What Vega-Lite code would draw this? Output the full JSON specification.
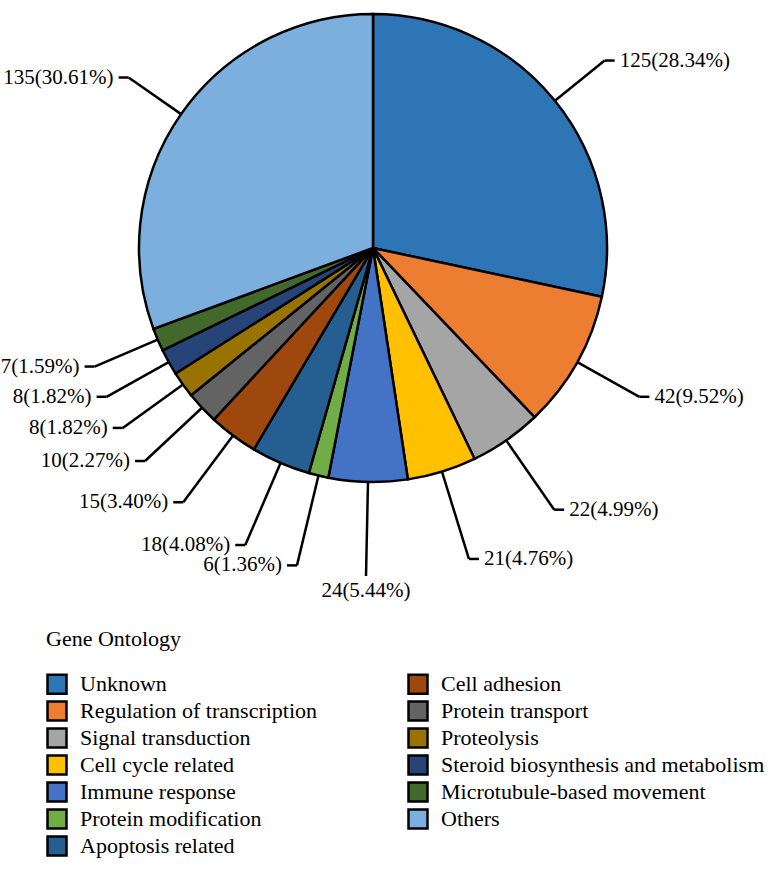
{
  "$schema": "https://vega.github.io/schema/vega-lite/v6.json",
  "width": 742,
  "height": 496,
  "padding": 0,
  "autosize": {"type": "pad"},
  "background": "white",
  "config": {"view": {"stroke": null}, "font": "Liberation Serif"},
  "data": {
    "values": [
      {"idx": 1, "category": "Unknown", "count": 125, "label": "125(28.34%)"},
      {"idx": 2, "category": "Regulation of transcription", "count": 42, "label": "42(9.52%)"},
      {"idx": 3, "category": "Signal transduction", "count": 22, "label": "22(4.99%)"},
      {"idx": 4, "category": "Cell cycle related", "count": 21, "label": "21(4.76%)"},
      {"idx": 5, "category": "Immune response", "count": 24, "label": "24(5.44%)"},
      {"idx": 6, "category": "Protein modification", "count": 6, "label": "6(1.36%)"},
      {"idx": 7, "category": "Apoptosis related", "count": 18, "label": "18(4.08%)"},
      {"idx": 8, "category": "Cell adhesion", "count": 15, "label": "15(3.40%)"},
      {"idx": 9, "category": "Protein transport", "count": 10, "label": "10(2.27%)"},
      {"idx": 10, "category": "Proteolysis", "count": 8, "label": "8(1.82%)"},
      {"idx": 11, "category": "Steroid biosynthesis and metabolism", "count": 8, "label": "8(1.82%)"},
      {"idx": 12, "category": "Microtubule-based movement", "count": 7, "label": "7(1.59%)"},
      {"idx": 13, "category": "Others", "count": 135, "label": "135(30.61%)"}
    ]
  },
  "transform": [
    {"window": [{"op": "sum", "field": "count", "as": "cum"}], "sort": [{"field": "idx"}], "frame": [null, 0]},
    {"joinaggregate": [{"op": "sum", "field": "count", "as": "total"}]},
    {"calculate": "2*PI*(datum.cum - datum.count/2)/datum.total", "as": "mid"},
    {"calculate": "sin(datum.mid)", "as": "s"},
    {"calculate": "cos(datum.mid)", "as": "c"},
    {"calculate": "298 + (datum.c < 0 ? 30*datum.c*datum.c : 0)", "as": "re"},
    {"calculate": "234*datum.s", "as": "ex"},
    {"calculate": "234*datum.c", "as": "ey"},
    {"calculate": "datum.re*datum.s", "as": "lx"},
    {"calculate": "datum.re*datum.c", "as": "ly"},
    {"calculate": "abs(datum.s) < 0.1 ? 0 : (datum.s > 0 ? 1 : -1)", "as": "side"},
    {"calculate": "datum.lx + datum.side*10", "as": "tx"},
    {"calculate": "datum.tx + datum.side*5", "as": "labx"},
    {"calculate": "datum.ly - 4", "as": "laby"}
  ],
  "layer": [
    {
      "mark": {"type": "arc", "outerRadius": 234, "stroke": "black", "strokeWidth": 2.5},
      "encoding": {
        "theta": {"field": "count", "type": "quantitative", "stack": true},
        "order": {"field": "idx", "type": "quantitative"},
        "color": {
          "field": "category",
          "type": "nominal",
          "scale": {
            "domain": ["Unknown", "Regulation of transcription", "Signal transduction", "Cell cycle related", "Immune response", "Protein modification", "Apoptosis related", "Cell adhesion", "Protein transport", "Proteolysis", "Steroid biosynthesis and metabolism", "Microtubule-based movement", "Others"],
            "range": ["#2E75B6", "#ED7D31", "#A5A5A5", "#FFC000", "#4472C4", "#70AD47", "#255E91", "#9E480E", "#636363", "#997300", "#264478", "#43682B", "#7CAFDD"]
          },
          "legend": {
            "orient": "none",
            "legendX": 44,
            "legendY": 629,
            "direction": "vertical",
            "columns": 2,
            "title": "Gene Ontology",
            "titleFont": "Liberation Serif",
            "titleFontSize": 22,
            "titleFontWeight": "normal",
            "titleColor": "black",
            "titlePadding": 22,
            "labelFont": "Liberation Serif",
            "labelFontSize": 22,
            "labelColor": "black",
            "labelLimit": 500,
            "labelOffset": 12,
            "symbolType": "square",
            "symbolSize": 361,
            "symbolStrokeColor": "black",
            "symbolStrokeWidth": 2.5,
            "symbolOpacity": 1,
            "rowPadding": -3,
            "columnPadding": 85
          }
        }
      }
    },
    {
      "mark": {"type": "rule", "color": "black", "strokeWidth": 2.5},
      "encoding": {
        "x": {"field": "ex", "type": "quantitative", "scale": {"domain": [-371, 371], "nice": false, "zero": false}, "axis": null},
        "y": {"field": "ey", "type": "quantitative", "scale": {"domain": [-248, 248], "nice": false, "zero": false}, "axis": null},
        "x2": {"field": "lx"},
        "y2": {"field": "ly"}
      }
    },
    {
      "mark": {"type": "rule", "color": "black", "strokeWidth": 2.5},
      "encoding": {
        "x": {"field": "lx", "type": "quantitative", "scale": {"domain": [-371, 371], "nice": false, "zero": false}, "axis": null},
        "y": {"field": "ly", "type": "quantitative", "scale": {"domain": [-248, 248], "nice": false, "zero": false}, "axis": null},
        "x2": {"field": "tx"}
      }
    },
    {
      "transform": [{"filter": "datum.side > 0"}],
      "mark": {"type": "text", "align": "left", "baseline": "middle", "fontSize": 21, "font": "Liberation Serif", "color": "black"},
      "encoding": {
        "x": {"field": "labx", "type": "quantitative", "scale": {"domain": [-371, 371], "nice": false, "zero": false}, "axis": null},
        "y": {"field": "ly", "type": "quantitative", "scale": {"domain": [-248, 248], "nice": false, "zero": false}, "axis": null},
        "text": {"field": "label"}
      }
    },
    {
      "transform": [{"filter": "datum.side < 0"}],
      "mark": {"type": "text", "align": "right", "baseline": "middle", "fontSize": 21, "font": "Liberation Serif", "color": "black"},
      "encoding": {
        "x": {"field": "labx", "type": "quantitative", "scale": {"domain": [-371, 371], "nice": false, "zero": false}, "axis": null},
        "y": {"field": "ly", "type": "quantitative", "scale": {"domain": [-248, 248], "nice": false, "zero": false}, "axis": null},
        "text": {"field": "label"}
      }
    },
    {
      "transform": [{"filter": "datum.side == 0"}],
      "mark": {"type": "text", "align": "center", "baseline": "top", "fontSize": 21, "font": "Liberation Serif", "color": "black"},
      "encoding": {
        "x": {"field": "lx", "type": "quantitative", "scale": {"domain": [-371, 371], "nice": false, "zero": false}, "axis": null},
        "y": {"field": "laby", "type": "quantitative", "scale": {"domain": [-248, 248], "nice": false, "zero": false}, "axis": null},
        "text": {"field": "label"}
      }
    }
  ]
}
